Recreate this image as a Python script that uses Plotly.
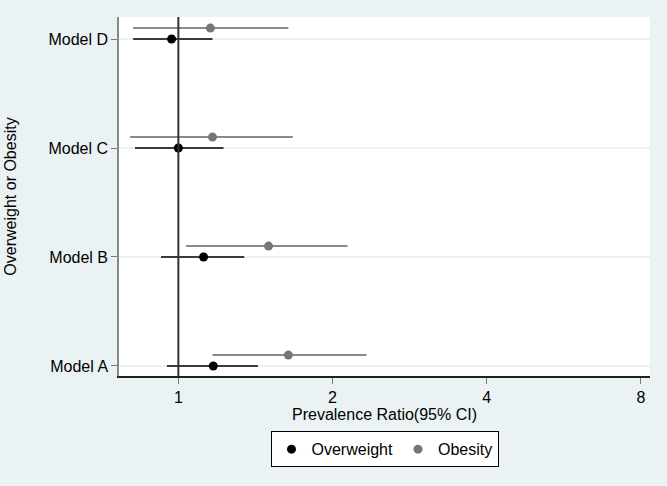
import plotly.graph_objects as go

models = ["Model A", "Model B", "Model C", "Model D"]
ow_est = [1.17, 1.12, 1.00, 0.97]
ow_lo = [0.95, 0.925, 0.823, 0.816]
ow_hi = [1.43, 1.345, 1.225, 1.166]
ob_est = [1.64, 1.50, 1.166, 1.155]
ob_lo = [1.166, 1.035, 0.805, 0.816]
ob_hi = [2.33, 2.14, 1.673, 1.64]
x_ticks = [1, 2, 4, 8]

pos = list(range(1, len(models) + 1))
pos_ob = [p + 0.1 for p in pos]

font = "Liberation Sans, Arial, Helvetica, sans-serif"
fig = go.Figure()

fig.add_trace(go.Scatter(
    x=ow_est, y=pos, mode="markers", name="Overweight",
    marker=dict(color="black", size=9),
    error_x=dict(type="data", symmetric=False,
                 array=[h - e for h, e in zip(ow_hi, ow_est)],
                 arrayminus=[e - l for e, l in zip(ow_est, ow_lo)],
                 color="#3a3a3a", thickness=2, width=0),
))
fig.add_trace(go.Scatter(
    x=ob_est, y=pos_ob, mode="markers", name="Obesity",
    marker=dict(color="#767676", size=9),
    error_x=dict(type="data", symmetric=False,
                 array=[h - e for h, e in zip(ob_hi, ob_est)],
                 arrayminus=[e - l for e, l in zip(ob_est, ob_lo)],
                 color="#8a8a8a", thickness=2, width=0),
))

fig.add_shape(type="line", xref="x", yref="paper", x0=1, x1=1, y0=0, y1=1,
              line=dict(color="#333333", width=2), layer="above")

fig.update_layout(
    width=667, height=486,
    margin=dict(l=119, r=17, t=17, b=110),
    paper_bgcolor="#EAF2F3", plot_bgcolor="white",
    font=dict(family=font, size=16, color="black"),
    showlegend=True,
    legend=dict(orientation="h", x=0.5, xanchor="center", y=-0.154, yanchor="top",
                bordercolor="black", borderwidth=1, bgcolor="white",
                font=dict(size=16), itemwidth=30, tracegroupgap=0),
    xaxis=dict(type="log", range=[-0.1159, 0.921], tickvals=x_ticks,
               ticktext=[str(t) for t in x_ticks], automargin=False,
               showgrid=False, zeroline=False, showline=True,
               linecolor="#222222", linewidth=1.5,
               ticks="outside", ticklen=6, tickcolor="#777777",
               title=dict(text="Prevalence Ratio(95% CI)", standoff=0,
                          font=dict(size=16))),
    yaxis=dict(range=[0.908, 4.202], tickvals=pos, ticktext=models,
               automargin=False,
               showgrid=True, gridcolor="#EAF2F3", gridwidth=1.5,
               zeroline=False, showline=True, linecolor="#888888", linewidth=1.5,
               ticks="outside", ticklen=6, tickcolor="#777777",
               title=dict(text="Overweight or Obesity", standoff=28,
                          font=dict(size=16))),
)

fig.write_html("out.html", config={"displayModeBar": False},
               post_script="document.body.style.margin='0';document.body.style.background='#EAF2F3';")
